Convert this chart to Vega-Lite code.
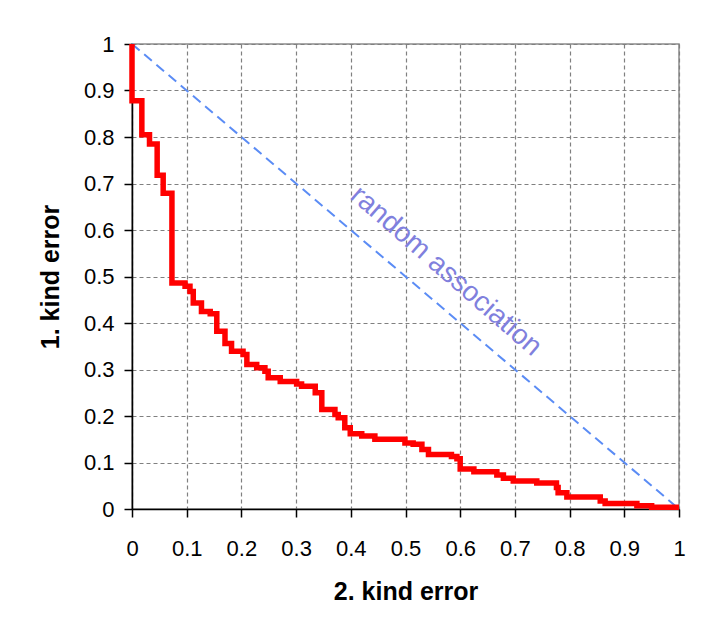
{
  "$schema": "https://vega.github.io/schema/vega-lite/v6.json",
  "width": 547,
  "height": 465,
  "autosize": {"type": "none"},
  "padding": {"left": 132, "top": 44, "right": 23, "bottom": 119},
  "background": "white",
  "config": {
    "font": "Liberation Sans",
    "view": {"stroke": "#8c8c8c", "strokeWidth": 1.5},
    "axis": {
      "domainColor": "black",
      "domainWidth": 1.5,
      "tickColor": "black",
      "tickWidth": 1.5,
      "tickSize": 8,
      "labelFont": "Liberation Sans",
      "labelFontSize": 22,
      "labelColor": "black",
      "labelFlush": false,
      "labelOverlap": false,
      "format": "~g",
      "titleFont": "Liberation Sans",
      "titleFontSize": 25,
      "titleFontWeight": "bold",
      "titleColor": "black",
      "grid": true,
      "gridColor": "#808080",
      "gridDash": [4, 3],
      "gridWidth": 1.2
    }
  },
  "datasets": {
    "curve": [
      {"fp": 0, "fn": 1},
      {"fp": 0, "fn": 0.878},
      {"fp": 0.018, "fn": 0.805},
      {"fp": 0.032, "fn": 0.785},
      {"fp": 0.046, "fn": 0.718},
      {"fp": 0.057, "fn": 0.679},
      {"fp": 0.073, "fn": 0.486},
      {"fp": 0.097, "fn": 0.479},
      {"fp": 0.106, "fn": 0.468},
      {"fp": 0.112, "fn": 0.443},
      {"fp": 0.127, "fn": 0.425},
      {"fp": 0.143, "fn": 0.42},
      {"fp": 0.155, "fn": 0.382},
      {"fp": 0.17, "fn": 0.356},
      {"fp": 0.182, "fn": 0.339},
      {"fp": 0.203, "fn": 0.332},
      {"fp": 0.21, "fn": 0.311},
      {"fp": 0.228, "fn": 0.304},
      {"fp": 0.243, "fn": 0.296},
      {"fp": 0.249, "fn": 0.282},
      {"fp": 0.271, "fn": 0.274},
      {"fp": 0.301, "fn": 0.269},
      {"fp": 0.31, "fn": 0.264},
      {"fp": 0.335, "fn": 0.25},
      {"fp": 0.347, "fn": 0.214},
      {"fp": 0.371, "fn": 0.203},
      {"fp": 0.377, "fn": 0.196},
      {"fp": 0.389, "fn": 0.175},
      {"fp": 0.399, "fn": 0.162},
      {"fp": 0.42, "fn": 0.157},
      {"fp": 0.444, "fn": 0.15},
      {"fp": 0.499, "fn": 0.142},
      {"fp": 0.514, "fn": 0.139},
      {"fp": 0.53, "fn": 0.128},
      {"fp": 0.542, "fn": 0.117},
      {"fp": 0.584, "fn": 0.113},
      {"fp": 0.594, "fn": 0.108},
      {"fp": 0.6, "fn": 0.086},
      {"fp": 0.625, "fn": 0.08},
      {"fp": 0.667, "fn": 0.073},
      {"fp": 0.679, "fn": 0.066},
      {"fp": 0.697, "fn": 0.06},
      {"fp": 0.74, "fn": 0.056},
      {"fp": 0.776, "fn": 0.046},
      {"fp": 0.779, "fn": 0.035},
      {"fp": 0.795, "fn": 0.026},
      {"fp": 0.856, "fn": 0.017},
      {"fp": 0.865, "fn": 0.012},
      {"fp": 0.923, "fn": 0.007},
      {"fp": 0.95, "fn": 0.004},
      {"fp": 1, "fn": 0.004}
    ],
    "diagonal": [
      {"fp": 0, "fn": 1},
      {"fp": 1, "fn": 0}
    ],
    "note": [
      {"fp": 0.574, "fn": 0.511, "label": "random association"}
    ]
  },
  "encoding": {
    "x": {
      "field": "fp",
      "type": "quantitative",
      "scale": {"domain": [0, 1], "nice": false, "zero": false},
      "axis": {
        "title": "2. kind error",
        "values": [0, 0.1, 0.2, 0.3, 0.4, 0.5, 0.6, 0.7, 0.8, 0.9, 1],
        "labelPadding": 21,
        "titlePadding": 20
      }
    },
    "y": {
      "field": "fn",
      "type": "quantitative",
      "scale": {"domain": [0, 1], "nice": false, "zero": false},
      "axis": {
        "title": "1. kind error",
        "values": [0, 0.1, 0.2, 0.3, 0.4, 0.5, 0.6, 0.7, 0.8, 0.9, 1],
        "labelPadding": 10,
        "titlePadding": 20
      }
    }
  },
  "layer": [
    {
      "data": {"name": "diagonal"},
      "mark": {"type": "line", "color": "#5b8cf5", "strokeWidth": 2, "strokeDash": [10, 6], "clip": false}
    },
    {
      "data": {"name": "curve"},
      "mark": {"type": "line", "color": "#ff0000", "strokeWidth": 5.5, "interpolate": "step-after", "strokeCap": "butt", "clip": false}
    },
    {
      "data": {"name": "note"},
      "mark": {"type": "text", "angle": 41, "fontSize": 28, "font": "Liberation Sans", "color": "#8080dd", "align": "center", "baseline": "middle"},
      "encoding": {"text": {"field": "label"}}
    }
  ]
}
